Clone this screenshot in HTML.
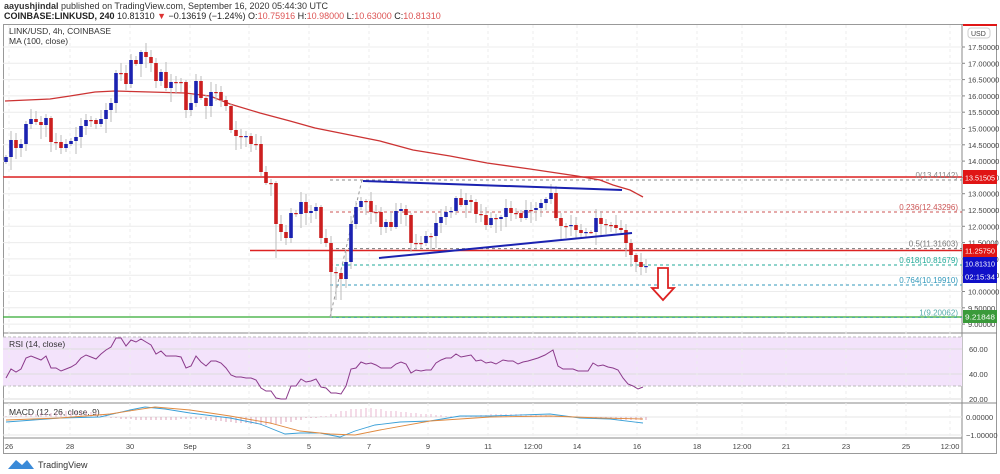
<!DOCTYPE html>
<html><head><meta charset="utf-8"><style>
body{margin:0;background:#fff;width:1000px;height:474px;overflow:hidden;font-family:"Liberation Sans",sans-serif}
svg{position:absolute;left:0;top:0}
</style></head><body>
<svg id="s" width="1000" height="474" viewBox="0 0 1000 474" font-family="Liberation Sans, sans-serif">
<text x="4" y="9" font-size="9" fill="#333"><tspan font-weight="bold">aayushjindal</tspan> published on TradingView.com, September 16, 2020 05:44:30 UTC</text>
<text x="4" y="19" font-size="9" fill="#222"><tspan font-weight="bold">COINBASE:LINKUSD, 240</tspan> 10.81310 <tspan fill="#d33">▼</tspan> −0.13619 (−1.24%) O:<tspan fill="#d55">10.75916</tspan> H:<tspan fill="#d55">10.98000</tspan> L:<tspan fill="#d55">10.63000</tspan> C:<tspan fill="#d55">10.81310</tspan></text>
<rect x="3.5" y="24.5" width="993" height="429" fill="none" stroke="#999"/>
<line x1="962" y1="24" x2="962" y2="453" stroke="#888"/>
<line x1="3" y1="333" x2="997" y2="333" stroke="#888"/>
<line x1="3" y1="403" x2="997" y2="403" stroke="#888"/>
<line x1="3" y1="438" x2="962" y2="438" stroke="#888"/>
<rect x="3" y="337" width="959" height="49" fill="#f3e3fb"/>
<line x1="3" y1="337" x2="962" y2="337" stroke="#bbb" stroke-dasharray="3,2"/>
<line x1="3" y1="386" x2="962" y2="386" stroke="#bbb" stroke-dasharray="3,2"/>
<g id="grid"></g>
<g id="bg"></g>
<text x="9" y="34" font-size="8.5" fill="#333">LINK/USD, 4h, COINBASE</text>
<text x="9" y="44" font-size="8.5" fill="#333">MA (100, close)</text>
<text x="9" y="347" font-size="8.5" fill="#333">RSI (14, close)</text>
<text x="9" y="415" font-size="8.5" fill="#333">MACD (12, 26, close, 9)</text>
<g id="c"></g>
<g id="ax" font-size="7.5" fill="#444"></g>
<path d="M8 469 L16 460 L22 465 L27 460 L34 469 Z" fill="#3a8ad8"/>
<text x="38" y="468" font-size="9" fill="#333">TradingView</text>
</svg>
<script>
var NS="http://www.w3.org/2000/svg";
function el(p,t,a,txt){var e=document.createElementNS(NS,t);for(var k in a)e.setAttribute(k,a[k]);if(txt!=null)e.textContent=txt;document.getElementById(p).appendChild(e);return e;}
function Y(p){return 47+(17.5-p)*32.6;}
for(var p=9;p<=17.5;p+=0.5){var y=Y(p);el('grid','line',{x1:3,y1:y,x2:962,y2:y,stroke:'#ececec'});el('ax','line',{x1:962,y1:y,x2:965,y2:y,stroke:'#888'});el('ax','text',{x:968,y:y+3},p.toFixed(5));}
[[349,'60.00'],[374,'40.00'],[399,'20.00']].forEach(function(a){el('grid','line',{x1:3,y1:a[0],x2:962,y2:a[0],stroke:'#ddd'});el('ax','text',{x:969,y:a[0]+3},a[1]);});
[[417,'0.00000'],[435,'−1.00000']].forEach(function(a){el('grid','line',{x1:3,y1:a[0],x2:962,y2:a[0],stroke:'#e6e6e6'});el('ax','text',{x:966,y:a[0]+3},a[1]);});
var xl=[[9,'26'],[70,'28'],[130,'30'],[190,'Sep'],[249,'3'],[309,'5'],[369,'7'],[428,'9'],[488,'11'],[533,'12:00'],[577,'14'],[637,'16'],[697,'18'],[742,'12:00'],[786,'21'],[846,'23'],[906,'25'],[950,'12:00']];
xl.forEach(function(a){el('grid','line',{x1:a[0],y1:25,x2:a[0],y2:438,stroke:'#eee','stroke-dasharray':'3,3'});el('ax','text',{x:a[0],y:449,'text-anchor':'middle'},a[1]);});
el('bg','line',{x1:3,y1:177,x2:962,y2:177,stroke:'#d22','stroke-width':1.5});
el('bg','line',{x1:250,y1:250.5,x2:962,y2:250.5,stroke:'#d22','stroke-width':1.5});
el('bg','line',{x1:3,y1:317,x2:962,y2:317,stroke:'#3a3','stroke-width':1.2});
var fib=[[180,'#888','0(13.41142)'],[212,'#c55','0.236(12.43296)'],[248.6,'#777','0.5(11.31603)'],[265,'#2a9','0.618(10.81679)'],[285,'#39b','0.764(10.19910)'],[317.5,'#5aa','1(9.20062)']];
fib.forEach(function(f){el('bg','line',{x1:330,y1:f[0],x2:962,y2:f[0],stroke:f[1],'stroke-dasharray':'3,3'});el('bg','text',{x:958,y:f[0]-2,'text-anchor':'end','font-size':8,fill:f[1]},f[2]);});
el('bg','line',{x1:330,y1:317,x2:362,y2:180,stroke:'#999','stroke-dasharray':'3,3'});
el('bg','polyline',{points:'5,101 50,99 70,96 95,92 115,91 150,92 185,93 210,96 230,104 260,113 290,121 315,128 340,133 380,141 413,150 450,156 487,163 530,169 577,176 600,180 613,185 630,190 643,197',fill:'none',stroke:'#c33','stroke-width':1.3});
var d=[157,140,148,144,124,119,122,125,118,142,142,148,144,141,137,126,120,120,124,119,110,103,73,73,84,60,64,52,57,63,81,72,88,82,82,82,110,103,81,98,106,92,92,100,106,130,136,137,136,144,144,172,183,183,224,232,238,213,214,202,213,211,207,238,243,272,273,279,262,224,207,201,201,212,212,227,222,227,211,209,215,243,243,243,236,236,223,217,212,211,198,205,200,202,214,215,225,218,219,217,208,213,213,218,210,210,208,203,199,193,218,226,226,225,230,233,232,232,218,224,225,225,228,230,243,255,262,267,266];
var prev=162;
for(var i=0;i<d.length;i++){var x=6+i*5,o=prev,c=d[i];var up=c<o;var col=up?'#1b22b0':'#cc1f1f';
var w1=2+((i*7)%9),w2=2+((i*11)%13);var hi=Math.min(o,c)-w1,lo=Math.max(o,c)+w2;
if(i==65)lo=318;if(i==66||i==67)lo=300;if(i==54)lo=258;
el('c','line',{x1:x,y1:hi,x2:x,y2:lo,stroke:'#bbb'});
var t=Math.min(o,c),h=Math.max(1.2,Math.abs(o-c));el('c','rect',{x:x-1.8,y:t,width:3.6,height:h,fill:col});prev=c;}
el('c','line',{x1:363,y1:181,x2:622,y2:190,stroke:'#1b22b0','stroke-width':2});
el('c','line',{x1:379,y1:258,x2:632,y2:233,stroke:'#1b22b0','stroke-width':2});
el('c','path',{d:'M658 268 L668 268 L668 288 L674 288 L663 300 L652 288 L658 288 Z',fill:'#fff',stroke:'#d22','stroke-width':1.8});
el('c','polyline',{points:'6,378 11,369 16,372 21,369 26,358 31,356 36,358 41,360 46,356 51,368 56,368 61,371 66,369 71,367 76,364 81,358 86,355 91,357 96,359 101,354 106,350 111,347 116,338 121,338 126,346 131,340 136,342 141,339 146,342 151,345 156,354 161,351 166,356 171,356 176,356 181,357 186,368 191,366 196,356 201,362 206,366 211,361 216,361 221,363 226,368 231,375 236,377 241,377 246,378 251,378 256,380 261,388 266,391 271,391 276,398 281,399 286,399 291,386 296,386 301,379 306,382 311,381 316,379 321,387 326,388 331,393 336,393 341,394 346,386 351,369 356,368 361,362 366,364 371,363 376,365 381,368 386,368 391,368 396,364 401,362 406,364 411,373 416,370 421,371 426,370 431,370 436,363 441,360 446,358 451,358 456,354 461,357 466,356 471,355 476,361 481,360 486,363 491,362 496,364 503,360 508,361 513,361 518,364 523,362 528,361 538,358 545,355 553,350 558,366 563,369 568,369 573,369 578,371 583,371 588,371 593,363 598,366 603,365 608,367 613,368 618,370 623,378 628,384 633,386 638,389 643,387',fill:'none',stroke:'#8b3a8b','stroke-width':1});
var hv=[1,2,3,4,5,6,6,5,3,-1,-2,-3,-3,-3,-3,-2,-2,-3,-4,-5,-6,-7,-8,-7,-5,-3,-1,1,3,6,8,9,8,6,5,4,3,2,1,0,1,2,3,3,3,2,2,1,1,0,-1,-2,-2,-3,-3,-3];
for(var i=0;i<d.length;i+=1){var x=6+i*5;var h=hv[Math.floor(i/2.3)]||0;
el('c','line',{x1:x,y1:417,x2:x,y2:417-h,stroke:h>0?'#e3a6c6':'#d38aa6','stroke-width':0.8});}
el('c','polyline',{points:'6,422 20,421 60,418 100,417 130,410 145,407 165,409 190,413 230,418 260,424 285,434 300,433 320,433 340,437 355,431 375,425 400,422 430,421 460,416 490,416 550,414 580,418 610,419 643,423',fill:'none',stroke:'#3aa0d8','stroke-width':0.9});
el('c','polyline',{points:'6,420 60,418 110,414 155,407 190,410 230,416 270,423 300,431 330,434 355,435 380,430 430,421 460,419 490,417 550,416 600,418 643,419',fill:'none',stroke:'#e08a40','stroke-width':0.9});
function box(y,h,c,t){el('ax','rect',{x:963,y:y,width:34,height:h,fill:c});el('ax','text',{x:965,y:y+h-3.5,fill:'#fff','font-size':7.5,textLength:30,lengthAdjust:'spacingAndGlyphs'},t);}
box(170,14,'#e01515','13.51505');box(244,13,'#e01515','11.25750');box(257,13,'#1010c8','10.81310');box(270,13,'#1010c8','02:15:34');box(310,13,'#3a9a3a','9.21848');
el('ax','rect',{x:963,y:24,width:34,height:2,fill:'#e01515'});
el('ax','rect',{x:968,y:28,width:22,height:10,rx:3,fill:'#fff',stroke:'#ccc'});el('ax','text',{x:971,y:36,'font-size':7},'USD');
</script>
</body></html>
